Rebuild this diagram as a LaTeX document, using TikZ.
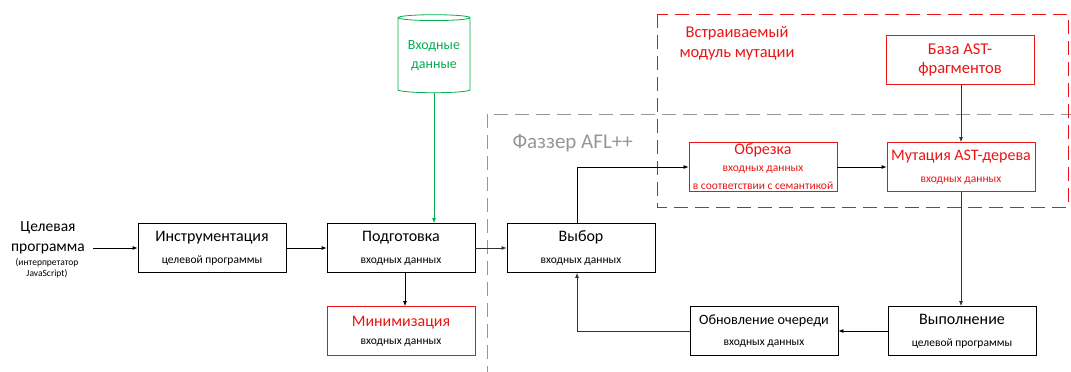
\documentclass[tikz,border=0pt]{standalone}
\usepackage{fontspec}
\setmainfont{Carlito}
\usepackage{xcolor}
\definecolor{ColRed}{RGB}{235,20,20}
\definecolor{ColGreen}{RGB}{0,176,80}
\definecolor{ColGray}{RGB}{150,150,150}
\usepackage{tikz}
\usetikzlibrary{shapes.geometric}
\usetikzlibrary{arrows.meta}
\tikzstyle{Box}=[draw=black,thick,fill=white,minimum width=148pt,minimum height=49pt,
align=center,inner sep=0pt,font=\fontsize{16}{18}\selectfont]
\tikzstyle{RedBox}=[Box,draw=ColRed]
\tikzstyle{Edge}=[draw=black,thick,-{Latex[length=5pt,width=4pt]}]
\tikzstyle{Frame}=[thick,dash pattern=on 14pt off 7pt]
\newcommand{\Sub}[1]{\\[4pt]{\fontsize{11.5}{13}\selectfont #1}}

\begin{document}
\begin{tikzpicture}[x=1pt,y=1pt]
        \useasboundingbox(0,0)rectangle(1071,-372);
        % frames
        \draw[Frame,draw=ColGray](1075,-114)--(487,-114)--(487,-375);
        \draw[Frame,draw=ColRed](657,-14)rectangle(1068,-207);
        \node[font=\fontsize{21}{24}\selectfont,text=ColGray,anchor=west](afl)at(509,-143){Фаззер AFL++};
        \node[font=\fontsize{16.5}{20}\selectfont,text=ColRed,align=center](mod)at(737,-43){Встраиваемый\\модуль мутации};
        % nodes
        \node[align=center,font=\fontsize{15.5}{20}\selectfont](target)at(48,-238){Целевая\\программа};
        \node[align=center,font=\fontsize{9.5}{11}\selectfont](js)at(47,-268){(интерпретатор\\JavaScript)};
        \node[Box](instr)at(212,-248){Инструментация\Sub{целевой программы}};
        \node[Box](prep)at(401,-248){Подготовка\Sub{входных данных}};
        \node[Box](sel)at(581,-248){Выбор\Sub{входных данных}};
        \node[RedBox](min)at(401,-331){\textcolor{ColRed}{Минимизация}\\[0pt]{\fontsize{11.5}{13}\selectfont входных данных}};
        \node[Box,font=\fontsize{14.2}{17}\selectfont](upd)at(764,-331){Обновление очереди\Sub{входных данных}};
        \node[Box](exec)at(962,-331){Выполнение\Sub{целевой программы}};
        \node[RedBox,text=ColRed](trim)at(763,-167){Обрезка\\[-1pt]\fontsize{11.5}{14}\selectfont входных данных\\\fontsize{11.5}{14}\selectfont в соответствии с семантикой};
        \node[RedBox,text=ColRed](mut)at(961,-167){Мутация AST-дерева\Sub{входных данных}};
        \node[RedBox,text=ColRed,font=\fontsize{16.5}{19}\selectfont](base)at(960,-60){База AST-\\фрагментов};
        \node[cylinder,shape border rotate=90,aspect=0.1,draw=ColGreen,thick,fill=white,
        minimum width=72pt,minimum height=78pt,text=ColGreen,align=center,
        font=\fontsize{14}{19}\selectfont](data)at(434,-56){Входные\\данные};
        \coordinate(c1)at(577,-167);
        \coordinate(c2)at(577,-331);
        % edges
        \draw[Edge]([xshift=5pt]target.east|-instr.west)--(instr.west);
        \draw[Edge](instr)--(prep);
        \draw[Edge,draw=ColGreen](data.bottom)--(prep.north-|data.bottom);
        \draw[Edge,draw=black!80](prep)--(sel);
        \draw[Edge]([xshift=4pt]prep.south)--([xshift=4pt]min.north);
        \draw[Edge](sel.north-|c1)--(c1)--(trim.west);
        \draw[Edge](trim)--(mut);
        \draw[Edge,draw=black!80](base.south-|mut.north)--(mut.north);
        \draw[Edge,draw=black!80](mut.south)--(exec.north-|mut.south);
        \draw[Edge](exec)--(upd);
        \draw[Edge,draw=black!80](upd.west)--(c2)--(sel.south-|c2);
\end{tikzpicture}
\end{document}
